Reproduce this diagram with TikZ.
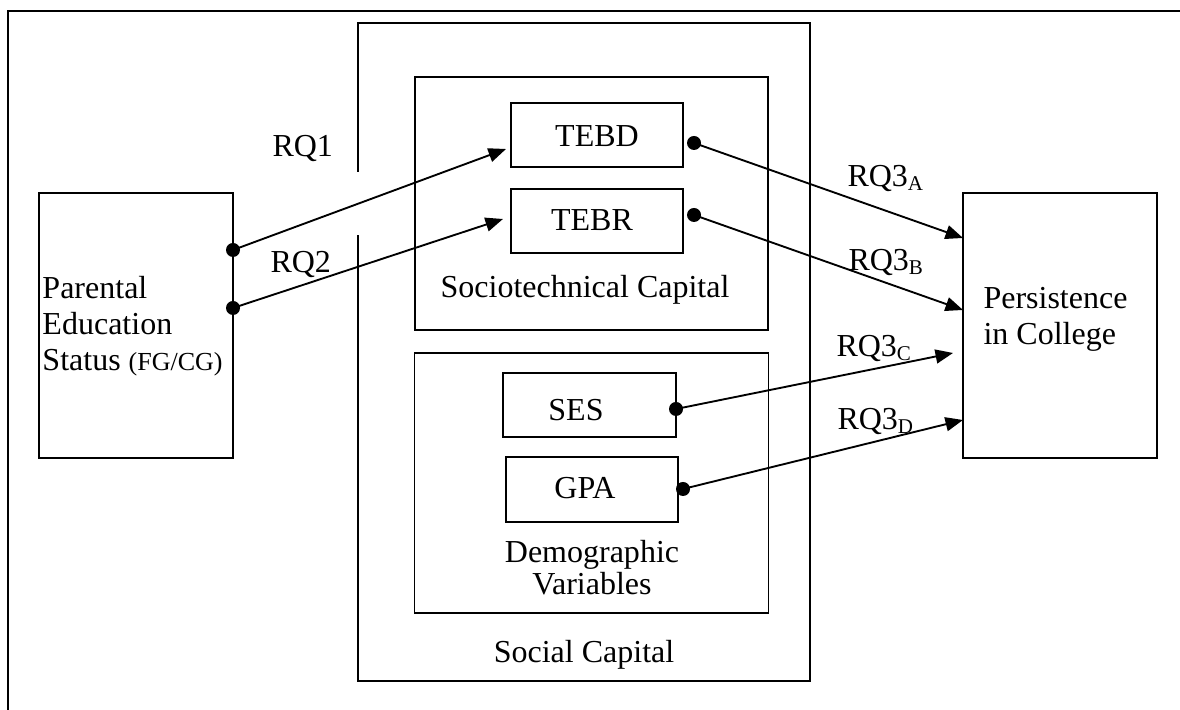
\documentclass[tikz,border=0pt]{standalone}
\usepackage{fontspec}
\setmainfont{Liberation Serif}
\usetikzlibrary{arrows.meta}
\newcommand\rqsub[1]{\raisebox{-1.5pt}{\fontsize{8.4}{8.4}\selectfont #1}}
\begin{document}
\begin{tikzpicture}[x=0.4pt,y=-0.4pt,
  box/.style={draw, line width=0.6pt, inner sep=0pt},
  wh/.style 2 args={minimum width=#1*0.4pt, minimum height=#2*0.4pt},
  lbl/.style={font=\fontsize{12.8}{14.4}\selectfont, inner sep=0pt},
  dot/.style={circle, fill, inner sep=0pt, minimum size=5.6pt},
  arr/.style={line width=0.75pt, -{Triangle[length=7pt,width=5.6pt]}},
  frame/.style={line width=0.9pt},
  wall/.style={line width=0.6pt}
]
\useasboundingbox (0,0) rectangle (1180,710);
% page frame (top and left only)
\draw[frame] (1180,11) -- (8,11) -- (8,710);
% Social Capital box with a gap in its left side
\draw[wall] (358,172) -- (358,23) -- (810,23) -- (810,681) -- (358,681) -- (358,235);
\node[lbl, anchor=base] (soc) at (584,663) {Social Capital};
% inner group boxes
\node[box, wh={353}{253}] (stc) at (591.5,203.5) {};
\node[lbl, anchor=base] (stcl) at (585,298) {Sociotechnical Capital};
\node[box, wh={354}{260}] (dem) at (591.5,483) {};
\node[lbl, anchor=north, align=center, font=\fontsize{12.8}{12.8}\selectfont] (deml) at (592,540) {Demographic\\Variables};
% variable boxes
\node[box, wh={172}{64}] (tebdb) at (597,135) {};
\node[lbl, anchor=base] (tebd) at (597,147) {TEBD};
\node[box, wh={172}{64}] (tebrb) at (597,221) {};
\node[lbl, anchor=base] (tebr) at (592,231) {TEBR};
\node[box, wh={173}{64}] (sesb) at (589.5,405) {};
\node[lbl, anchor=base] (ses) at (576,421) {SES};
\node[box, wh={172}{65}] (gpab) at (592,489.5) {};
\node[lbl, anchor=base] (gpa) at (585,499) {GPA};
% outer boxes
\node[box, wh={194}{265}] (peb) at (136,325.5) {};
\node[lbl, anchor=north west, align=left] (pe) at (42,276) {Parental\\Education\\Status {\fontsize{10.4}{12}\selectfont(FG/CG)}};
\node[box, wh={194}{265}] (pcb) at (1060,325.5) {};
\node[lbl, anchor=north west, align=left] (pc) at (983,287) {Persistence\\in College};
% dots
\node[dot] (d1) at (233,250) {};
\node[dot] (d2) at (233,308) {};
\node[dot] (d3) at (694,143) {};
\node[dot] (d4) at (694,215) {};
\node[dot] (d5) at (676,409) {};
\node[dot] (d6) at (683,489) {};
% arrow tips
\coordinate (t1) at (506,149);
\coordinate (t2) at (503,219);
\coordinate (t3) at (963,238);
\coordinate (t4) at (963,310);
\coordinate (t5) at (953,353);
\coordinate (t6) at (963,420);
\draw[arr] (d1.center) -- (t1);
\draw[arr] (d2.center) -- (t2);
\draw[arr] (d3.center) -- (t3);
\draw[arr] (d4.center) -- (t4);
\draw[arr] (d5.center) -- (t5);
\draw[arr] (d6.center) -- (t6);
% labels
\node[lbl, anchor=base west] (rq1) at (272,157) {RQ1};
\node[lbl, anchor=base west] (rq2) at (270,273) {RQ2};
\node[lbl, anchor=base west] (rq3a) at (847,187) {RQ3\rqsub{A}};
\node[lbl, anchor=base west] (rq3b) at (848,271) {RQ3\rqsub{B}};
\node[lbl, anchor=base west] (rq3c) at (836,357) {RQ3\rqsub{C}};
\node[lbl, anchor=base west] (rq3d) at (837,430) {RQ3\rqsub{D}};
\end{tikzpicture}
\end{document}
